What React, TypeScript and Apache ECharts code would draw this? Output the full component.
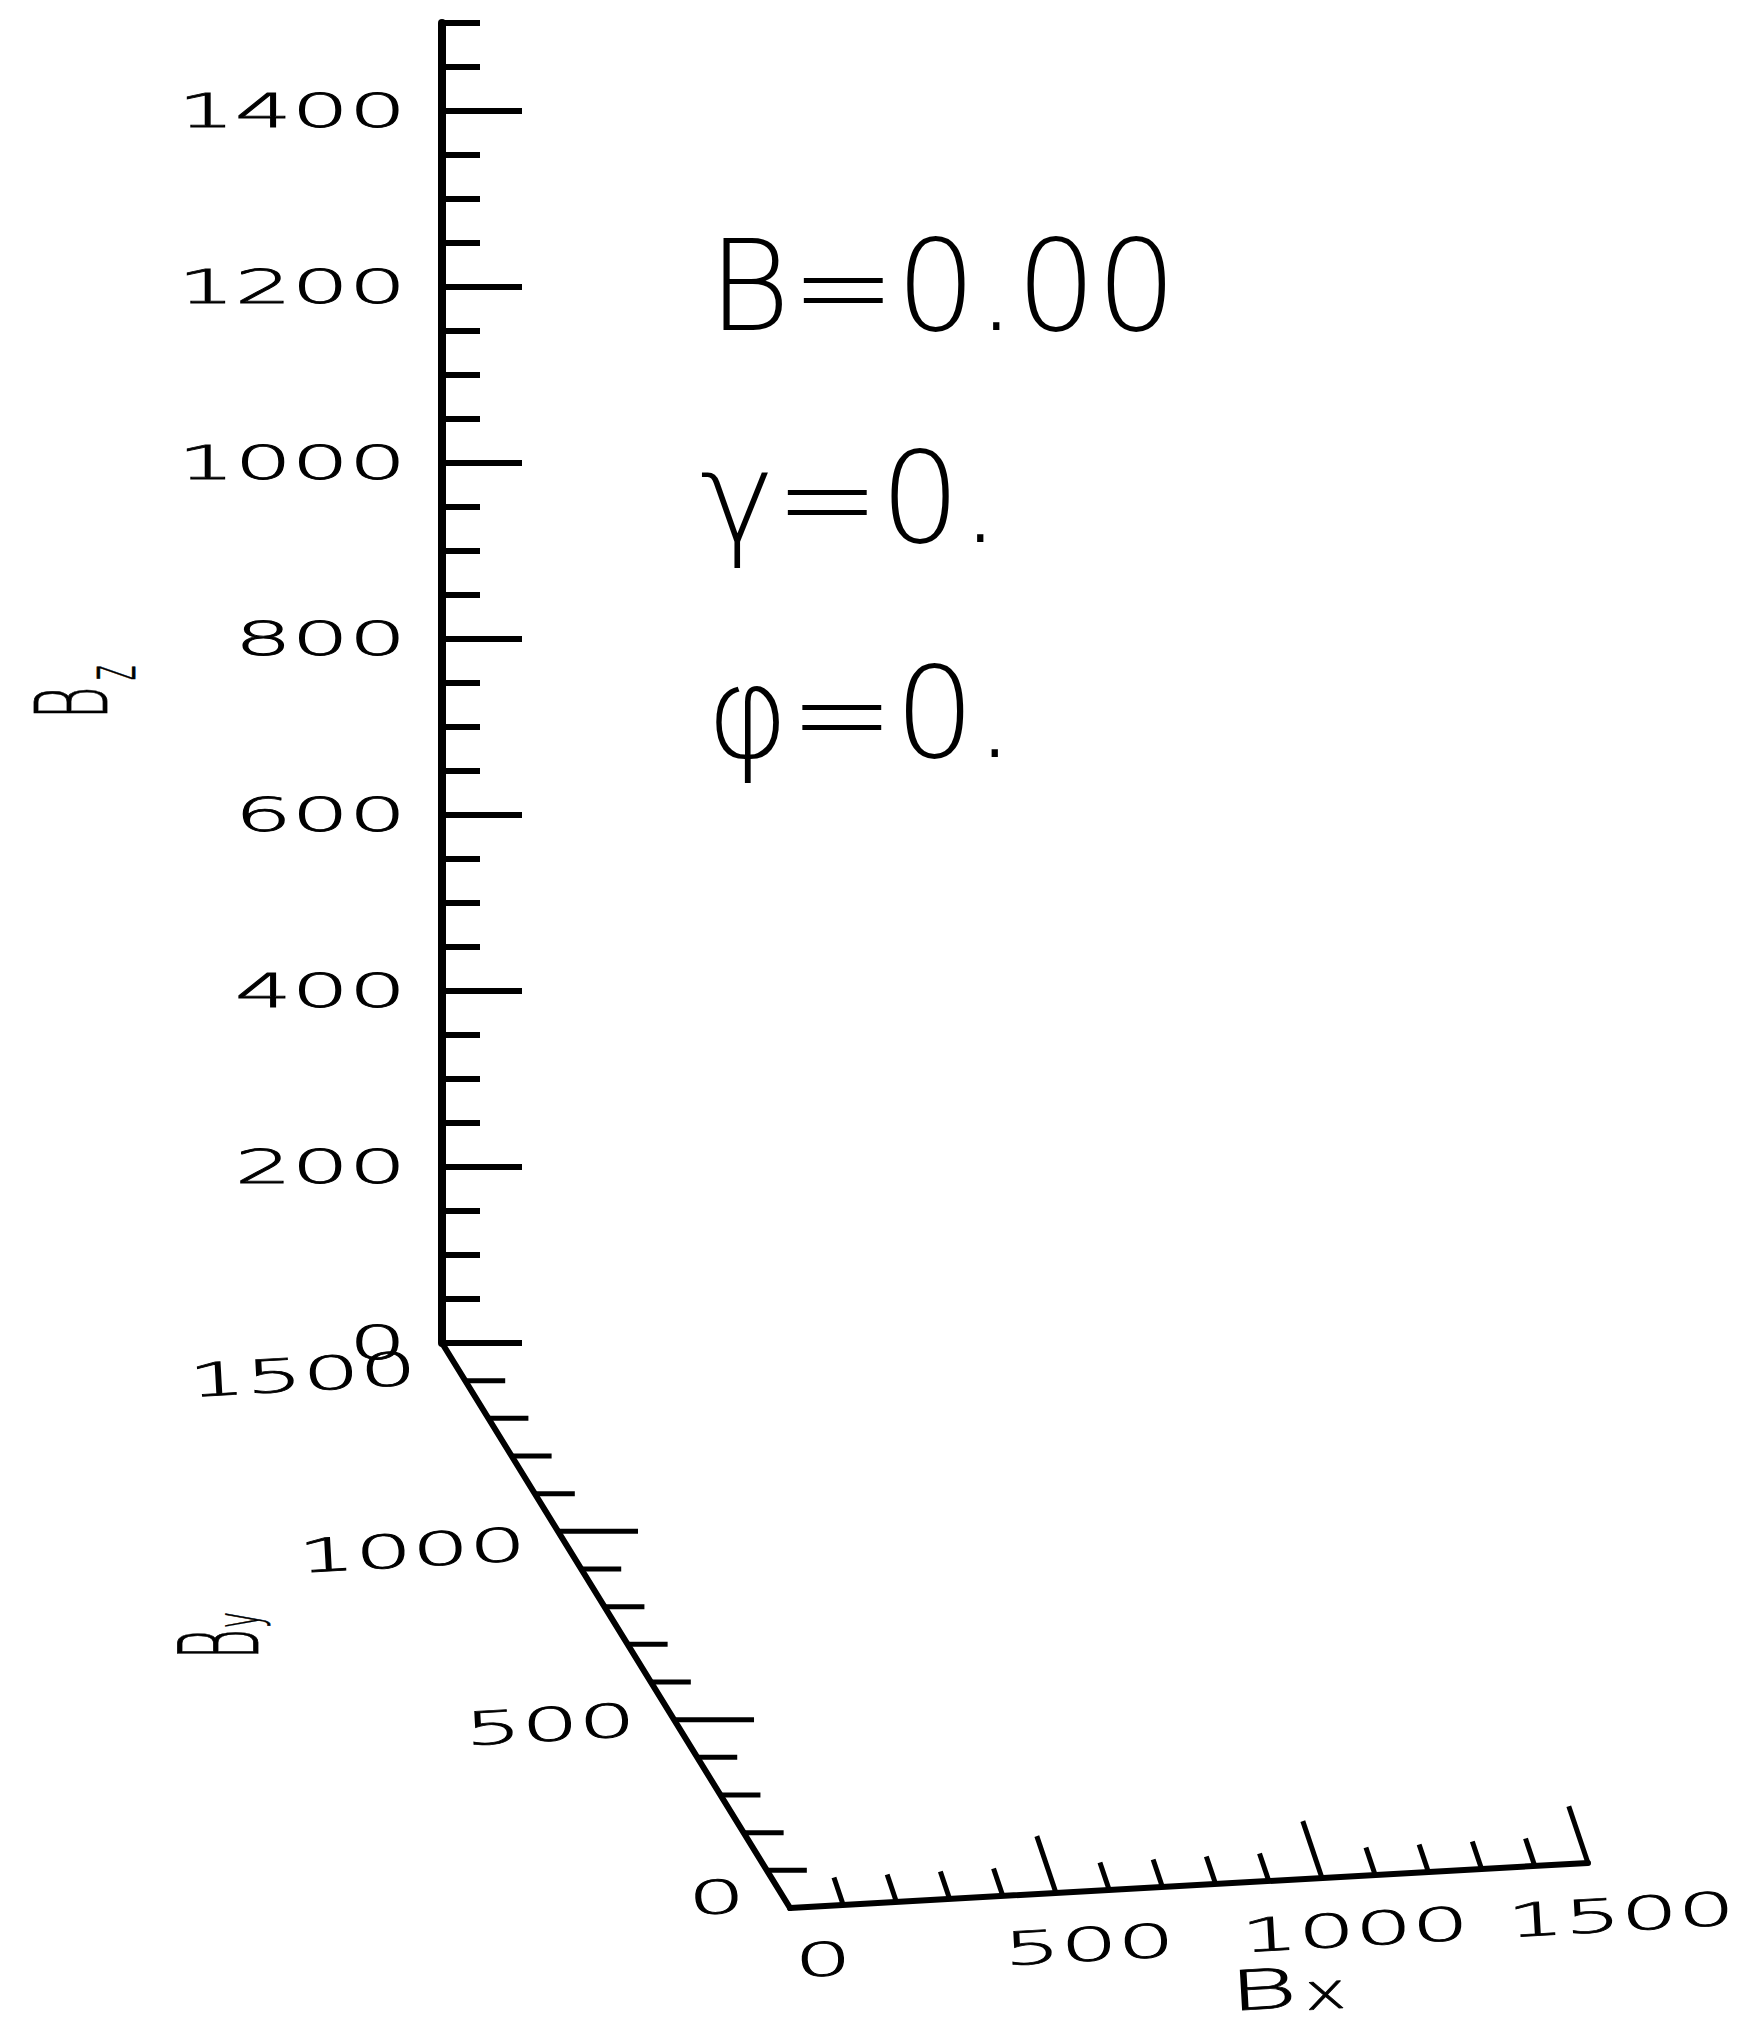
import React, { useEffect, useRef } from 'react';
import * as echarts from 'echarts';

// Field-component axes of the B-space box (all three run 0 … 1500)
const AXIS_MAX = 1500;
const BX_TICKS = [0, 100, 200, 300, 400, 500, 600, 700, 800, 900, 1000, 1100, 1200, 1300, 1400, 1500];
const BX_MAJOR = [0, 500, 1000, 1500];
const BX_LABELS = [0, 500, 1000, 1500];
const BY_TICKS = [0, 100, 200, 300, 400, 500, 600, 700, 800, 900, 1000, 1100, 1200, 1300, 1400, 1500];
const BY_MAJOR = [0, 500, 1000, 1500];
const BY_LABELS = [0, 500, 1000, 1500];
const BZ_MAJOR = [0, 200, 400, 600, 800, 1000, 1200, 1400];
const BZ_MINOR = [50, 100, 150, 250, 300, 350, 450, 500, 550, 650, 700, 750, 850, 900, 950, 1050, 1100, 1150, 1250, 1300, 1350, 1450, 1500];
const BZ_LABELS = [0, 200, 400, 600, 800, 1000, 1200, 1400];

// Parameter annotations
const PARAM_LINES = ['B=0.00', 'γ=0.', 'φ=0.'];

// Oblique view: plot units are Bz units both ways; the Bz axis stands at (Bx=0, By=1500)
const VIEW = { u0: 395.5, v0: -642, xu: 0.6045, xv: 0.03406, yu: -0.26367, yv: 0.428 };
const project = (bx: number, by: number, bz: number): number[] => [
  VIEW.u0 + bx * VIEW.xu + by * VIEW.yu,
  VIEW.v0 + bx * VIEW.xv + by * VIEW.yv + bz,
];

const FONT = "'DejaVu Sans'";
const INK = '#000';
const X_TICK_DIR = [-0.32, -0.947];
const Y_TICK_DIR = [1, 0];
const LABEL_ROT = 0.056;
const LABEL_FONT = `200 46px ${FONT}`;
const LABEL_SCALE = 1.95;

function axisLineSeries(name: string, axis: 'x' | 'y') {
  return {
    type: 'custom',
    name,
    coordinateSystem: 'cartesian2d',
    clip: false,
    silent: true,
    data: [[0, AXIS_MAX]],
    renderItem: (_p: any, api: any) => {
      const a = api.value(0);
      const b = api.value(1);
      const p0 = api.coord(axis === 'x' ? project(a, 0, 0) : project(0, a, 0));
      const p1 = api.coord(axis === 'x' ? project(b, 0, 0) : project(0, b, 0));
      return {
        type: 'line',
        shape: { x1: p0[0], y1: p0[1], x2: p1[0], y2: p1[1] },
        style: { stroke: INK, lineWidth: 6, lineCap: 'round' },
      };
    },
  };
}

function tickSeries(name: string, axis: 'x' | 'y', ticks: number[], majors: number[], labels: number[]) {
  return {
    type: 'custom',
    name,
    coordinateSystem: 'cartesian2d',
    clip: false,
    silent: true,
    data: ticks.map((t) => [t, 0]),
    renderItem: (_p: any, api: any) => {
      const t = api.value(0);
      const pt = api.coord(axis === 'x' ? project(t, 0, 0) : project(0, t, 0));
      const major = majors.indexOf(t) >= 0;
      const dir = axis === 'x' ? X_TICK_DIR : Y_TICK_DIR;
      const len = axis === 'x' ? (major ? 60 : 29) : (major ? 80 : 40);
      const children: any[] = [];
      // the tick at the shared origin would lie on the other axis
      if (t !== 0) {
        children.push({
          type: 'line',
          shape: { x1: pt[0], y1: pt[1], x2: pt[0] + dir[0] * len, y2: pt[1] + dir[1] * len },
          style: { stroke: INK, lineWidth: 5 },
        });
      }
      if (labels.indexOf(t) >= 0) {
        // labels further back in depth sit a little lower and closer to the axis
        const off = axis === 'x' ? [33, 52] : [-45 + 0.013 * t, -12 + 0.025 * t];
        children.push({
          type: 'text',
          x: pt[0] + off[0],
          y: pt[1] + off[1],
          rotation: LABEL_ROT,
          scaleX: LABEL_SCALE,
          style: {
            text: String(t),
            fill: INK,
            stroke: INK,
            lineWidth: 0.8,
            font: LABEL_FONT,
            align: axis === 'x' ? 'center' : 'right',
            verticalAlign: 'middle',
          },
        });
      }
      return { type: 'group', children };
    },
  };
}

function zLabelSeries() {
  return {
    type: 'custom',
    name: 'Bz labels',
    coordinateSystem: 'cartesian2d',
    clip: false,
    silent: true,
    data: BZ_LABELS.map((z) => [z, 0]),
    renderItem: (_p: any, api: any) => {
      const z = api.value(0);
      const pt = api.coord(project(0, AXIS_MAX, z));
      return {
        type: 'text',
        x: pt[0] - 36,
        y: pt[1],
        scaleX: LABEL_SCALE,
        style: {
          text: String(z),
          fill: INK,
          stroke: INK,
          lineWidth: 0.8,
          font: LABEL_FONT,
          align: 'right',
          verticalAlign: 'middle',
        },
      };
    },
  };
}

function titleGroup(x: number, y: number, rotation: number, main: any, sub: any) {
  const style = (text: string, size: number) => ({
    text,
    fill: INK,
    stroke: INK,
    lineWidth: 0.8,
    font: `200 ${size}px ${FONT}`,
    align: 'center',
    verticalAlign: 'middle',
  });
  return {
    type: 'group',
    x,
    y,
    rotation,
    children: [
      { type: 'text', x: 0, y: 0, scaleX: main.scaleX, style: style(main.text, main.size) },
      { type: 'text', x: sub.dx, y: sub.dy, scaleX: sub.scaleX, style: style(sub.text, sub.size) },
    ],
  };
}

export default function App() {
  const ref = useRef<HTMLDivElement>(null);

  useEffect(() => {
    if (!ref.current) return;
    const chart = echarts.init(ref.current, null, { renderer: 'svg' });
    const option: any = {
      animation: false,
      backgroundColor: '#fff',
      grid: { left: 442, top: 23, width: 880, height: 1320, containLabel: false },
      xAxis: { type: 'value', min: 0, max: 1000, show: false },
      yAxis: [
        {
          type: 'value',
          min: 0,
          max: AXIS_MAX,
          interval: 50,
          position: 'left',
          axisLine: { show: true, lineStyle: { color: INK, width: 8 } },
          axisTick: { show: true, inside: true, length: 80, lineStyle: { color: INK, width: 6 }, customValues: BZ_MAJOR },
          axisLabel: { show: false },
          splitLine: { show: false },
        },
        {
          type: 'value',
          min: 0,
          max: AXIS_MAX,
          interval: 50,
          position: 'left',
          offset: 0,
          axisLine: { show: false },
          axisTick: { show: true, inside: true, length: 38, lineStyle: { color: INK, width: 6 }, customValues: BZ_MINOR },
          axisLabel: { show: false },
          splitLine: { show: false },
        },
      ],
      series: [
        axisLineSeries('Bx axis', 'x'),
        axisLineSeries('By axis', 'y'),
        tickSeries('Bx ticks', 'x', BX_TICKS, BX_MAJOR, BX_LABELS),
        tickSeries('By ticks', 'y', BY_TICKS, BY_MAJOR, BY_LABELS),
        zLabelSeries(),
      ],
      graphic: [
        ...PARAM_LINES.map((t, i) => ({
          type: 'text',
          x: [708, 700, 706][i],
          y: [286, 498, 713][i],
          style: { text: t, fill: INK, font: `200 126px ${FONT}`, align: 'left', verticalAlign: 'middle' },
        })),
        titleGroup(73, 703, Math.PI / 2, { text: 'B', size: 100, scaleX: 0.5 }, { text: 'z', size: 70, scaleX: 0.4, dx: 30, dy: 38 }),
        titleGroup(220, 1644, Math.PI / 2, { text: 'B', size: 110, scaleX: 0.42 }, { text: 'y', size: 60, scaleX: 0.45, dx: 24, dy: 18 }),
        titleGroup(1263, 1990, LABEL_ROT, { text: 'B', size: 55, scaleX: 1.9 }, { text: 'x', size: 50, scaleX: 1.4, dx: 62, dy: 5 }),
      ],
    };
    chart.setOption(option);
    return () => chart.dispose();
  }, []);

  return <div ref={ref} style={{ position: 'absolute', left: 0, top: 0, width: 1753, height: 2026 }} />;
}
